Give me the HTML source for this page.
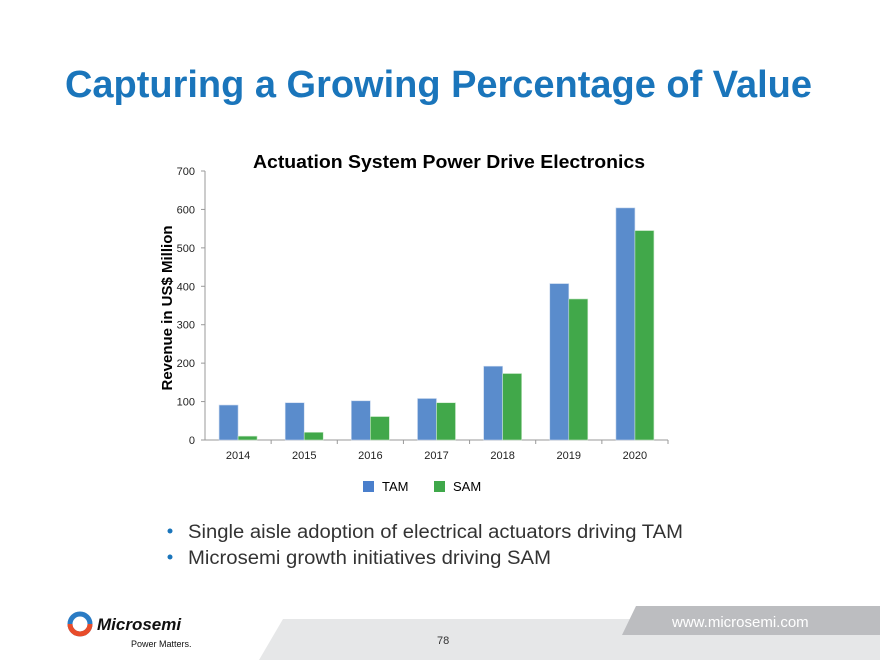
<!DOCTYPE html>
<html><head><meta charset="utf-8"><style>
body{margin:0;width:880px;height:660px;overflow:hidden;background:#fff;font-family:"Liberation Sans",sans-serif}
</style></head><body>
<svg width="880" height="660" viewBox="0 0 880 660" xmlns="http://www.w3.org/2000/svg">
<text x="65" y="97" textLength="747" lengthAdjust="spacingAndGlyphs" font-size="38" font-weight="bold" fill="#1a75bb">Capturing a Growing Percentage of Value</text>
<text x="253" y="168" textLength="392" lengthAdjust="spacingAndGlyphs" font-size="18" font-weight="bold" fill="#000">Actuation System Power Drive Electronics</text>
<text transform="translate(172,308) rotate(-90)" text-anchor="middle" font-size="15" font-weight="bold" fill="#000">Revenue in US$ Million</text>
<g id="chart"></g>
<g>
<rect x="363" y="481" width="11" height="11" fill="#4a7fcc"/>
<text x="382" y="491" font-size="13" fill="#000">TAM</text>
<rect x="434" y="481" width="11" height="11" fill="#3fa84a"/>
<text x="453" y="491" font-size="13" fill="#000">SAM</text>
</g>
<g font-size="19" fill="#333">
<circle cx="170" cy="531" r="2.5" fill="#1a75bb"/>
<text x="188" y="538" textLength="495" lengthAdjust="spacingAndGlyphs">Single aisle adoption of electrical actuators driving TAM</text>
<circle cx="170" cy="557" r="2.5" fill="#1a75bb"/>
<text x="188" y="564" textLength="363" lengthAdjust="spacingAndGlyphs">Microsemi growth initiatives driving SAM</text>
</g>
<polygon points="283,619 880,619 880,660 259,660" fill="#e6e7e8"/>
<polygon points="636,606 880,606 880,635 622,635" fill="#bcbdc0"/>
<text x="672" y="627" font-size="15" fill="#fff">www.microsemi.com</text>
<text x="437" y="644" font-size="11" fill="#333">78</text>
<g>
<circle cx="80" cy="624" r="10" fill="none" stroke="#2a7bc4" stroke-width="5"/>
<path d="M70 624 A10 10 0 0 0 90 624" fill="none" stroke="#e84c2a" stroke-width="5"/>
<text x="97" y="630" font-size="17" font-weight="bold" font-style="italic" fill="#111">Microsemi</text>
<text x="131" y="647" font-size="9" fill="#111">Power Matters.</text>
</g>
</svg>
<script>
const categories=["2014","2015","2016","2017","2018","2019","2020"];
const tamValues=[91,97,102,108,192,407,604];
const samValues=[10,20,61,97,173,367,545];
const yTicks=[0,100,200,300,400,500,600,700];
const NS="http://www.w3.org/2000/svg";
const g=document.getElementById('chart');
const x0=205,x1=668,yBase=440,yTop=171,yMax=700;
const yS=v=>yBase-(v/yMax)*(yBase-yTop);
const band=(x1-x0)/categories.length;
function mk(t,a){const e=document.createElementNS(NS,t);for(const k in a)e.setAttribute(k,a[k]);g.appendChild(e);return e;}
let e=mk('line',{x1:x0,y1:yTop,x2:x0,y2:yBase,stroke:'#999'});


e=mk('line',{x1:x0,y1:yBase,x2:x1,y2:yBase,stroke:'#999'});


yTicks.forEach(v=>{
 mk('line',{x1:x0-4,y1:yS(v),x2:x0,y2:yS(v),stroke:'#999'});
 const t=mk('text',{x:x0-10,y:yS(v)+4,'text-anchor':'end','font-size':11,fill:'#222'});
 t.textContent=v;
 
 
});
categories.forEach((c,i)=>{
 const bx=x0+i*band;
 mk('line',{x1:bx+band,y1:yBase,x2:bx+band,y2:yBase+4,stroke:'#999'});
 const w=19,cx=bx+band/2;
 let r=mk('rect',{x:cx-w,y:yS(tamValues[i]),width:w,height:yBase-yS(tamValues[i]),fill:'#5a8ccc',stroke:'#c8d8ee','stroke-width':0.6});
 
 
 r=mk('rect',{x:cx,y:yS(samValues[i]),width:w,height:yBase-yS(samValues[i]),fill:'#41a84a',stroke:'#c8e8c8','stroke-width':0.6});
 
 
 const t=mk('text',{x:cx,y:yBase+19,'text-anchor':'middle','font-size':11,fill:'#222'});
 t.textContent=c;
 
 
});
</script>
</body></html>
